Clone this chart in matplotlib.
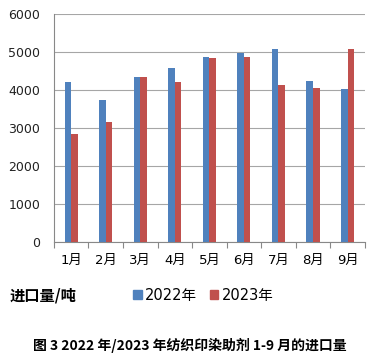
import matplotlib
matplotlib.use("Agg")
import numpy as np
import matplotlib.pyplot as plt
from matplotlib.patches import Patch

# DATA
months = ["1月", "2月", "3月", "4月", "5月", "6月", "7月", "8月", "9月"]
imports_2022 = [4210, 3730, 4340, 4590, 4880, 4980, 5070, 4250, 4030]
imports_2023 = [2850, 3170, 4340, 4200, 4830, 4870, 4140, 4040, 5070]
series_names = ["2022年", "2023年"]
unit_label = "进口量/吨"
title = "图 3 2022 年/2023 年纺织印染助剂 1-9 月的进口量"

plt.rcParams['font.family'] = ['DejaVu Sans', 'Noto Sans CJK SC']

BLUE = "#4F81BD"
RED = "#C0504D"

fig = plt.figure(figsize=(3.8, 3.6), dpi=100)
ax = fig.add_axes([0.142, 0.328, 0.818, 0.633])

x = np.arange(len(months))
w = 0.19
ax.bar(x - w / 2, imports_2022, width=w, color=BLUE, zorder=3)
ax.bar(x + w / 2, imports_2023, width=w, color=RED, zorder=3)

ax.set_xlim(-0.5, len(months) - 0.5)
ax.set_ylim(0, 6000)
ax.set_yticks(range(0, 6001, 1000))
ax.yaxis.grid(True, color="#A6A6A6", linewidth=0.8, zorder=0)
ax.tick_params(axis="y", length=0, labelsize=9, pad=10, colors="#222222")

# x ticks at category boundaries, labels at centres
ax.set_xticks(np.arange(-0.5, len(months)), minor=False)
ax.set_xticklabels([])
ax.set_xticks(x, minor=True)
ax.set_xticklabels(months, minor=True, fontsize=9.5)
ax.tick_params(axis="x", which="major", length=4, color="#888888")
ax.tick_params(axis="x", which="minor", length=0, pad=9)

for s in ["top", "right"]:
    ax.spines[s].set_visible(False)
ax.spines["left"].set_color("#888888")
ax.spines["bottom"].set_color("#888888")

fig.text(0.026, 0.178, unit_label, fontsize=11, fontweight="bold",
         family=['Noto Sans CJK SC'], va="center")

handles = [Patch(color=BLUE), Patch(color=RED)]
fig.legend(handles, series_names, loc="center left", bbox_to_anchor=(0.315, 0.18),
           ncol=2, frameon=False, fontsize=10.5, handlelength=0.6, handleheight=0.6,
           handletextpad=0.2, columnspacing=0.9)

fig.text(0.5, 0.04, title, fontsize=10, fontweight="bold",
         family=['Noto Sans CJK SC'], ha="center", va="center")

fig.savefig("out.png", dpi=100)
